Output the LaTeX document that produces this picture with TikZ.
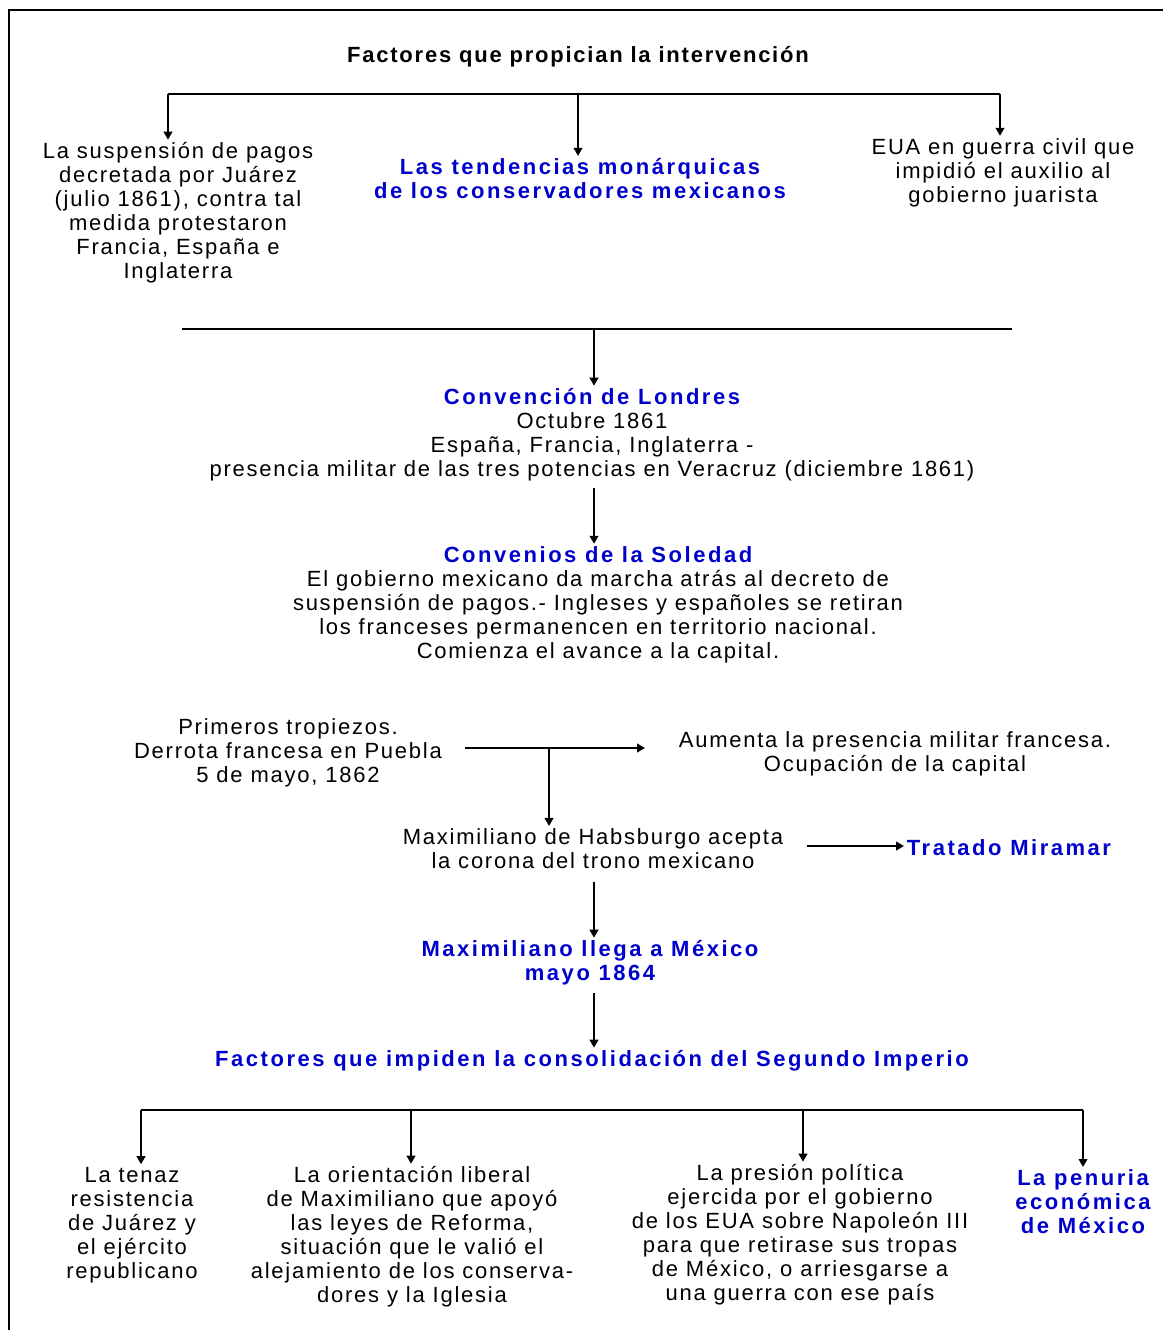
\documentclass[tikz,border=0pt]{standalone}
\usepackage{fontspec}
\setmainfont{Liberation Sans}[LetterSpace=8]
\newfontfamily\bluefont{Liberation Sans}[LetterSpace=11.5]
\usetikzlibrary{arrows.meta}
\definecolor{tblue}{RGB}{0,0,204}
\begin{document}
\begin{tikzpicture}[x=0.75pt,y=-0.75pt,
  txt/.style={align=center,inner sep=0pt,yshift=-2.25pt,font=\fontsize{16.5}{18}\selectfont},
  btxt/.style={align=center,inner sep=0pt,yshift=-2.25pt,font=\fontsize{16.5}{18}\selectfont\bluefont\bfseries,text=tblue},
  ttl/.style={align=center,inner sep=0pt,yshift=-2.25pt,font=\fontsize{16.5}{18}\selectfont\bfseries},
  conn/.style={line width=1.4pt},
  arr/.style={conn,-{Triangle[length=6pt,width=6.5pt]},shorten >=2pt},
  frame/.style={line width=1.6pt}]
\useasboundingbox (0,0) rectangle (1163,1330);
\draw[frame] (9,1330) -- (9,10) -- (1163,10);

% title and first branch
\node[ttl] (title) at (578,54) {Factores que propician la intervención};
\node[txt] (f1) at (178,210) {La suspensión de pagos\\decretada por Juárez\\(julio 1861), contra tal\\medida protestaron\\Francia, España e\\Inglaterra};
\node[btxt] (f2) at (580,176) {Las tendencias monárquicas\\de los conservadores mexicanos};
\node[txt] (f3) at (1003,170) {EUA en guerra civil que\\impidió el auxilio al\\gobierno juarista};
\coordinate (tl) at (168,94);
\coordinate (tm) at (578,94);
\coordinate (tr) at (1000,94);
\draw[conn] (tl) -- (tr);
\draw[arr] (tl) -- (tl |- f1.north);
\draw[arr] (tm) -- (tm |- f2.north);
\draw[arr] (tr) -- (tr |- f3.north);

% divider
\coordinate (dl) at (182,329);
\coordinate (dr) at (1012,329);
\coordinate (dm) at (594,329);
\draw[conn] (dl) -- (dr);

\node[txt] (lond) at (592,432) {{\bluefont\bfseries\color{tblue}Convención de Londres}\\Octubre 1861\\España, Francia, Inglaterra -\\presencia militar de las tres potencias en Veracruz  (diciembre 1861)};
\draw[arr] (dm) -- (dm |- lond.north);

\node[txt] (sol) at (598,602) {{\bluefont\bfseries\color{tblue}Convenios de la Soledad}\\El gobierno mexicano da marcha atrás al decreto de\\suspensión de pagos.- Ingleses y españoles se retiran\\los franceses permanencen en territorio nacional.\\Comienza el avance a la capital.};
\coordinate (s1) at (594,488);
\draw[arr] (s1) -- (s1 |- sol.north);

\node[txt] (prim) at (288,750) {Primeros tropiezos.\\Derrota francesa en Puebla\\5 de mayo, 1862};
\node[txt] (aum) at (895,751) {Aumenta la presencia militar francesa.\\Ocupación de la capital};
\coordinate (h1) at (465,748);
\coordinate (h2) at (645,748);
\coordinate (hd) at (549,748);
\draw[arr,shorten >=0pt] (h1) -- (h2);

\node[txt] (maxi) at (593,846) {Maximiliano de Habsburgo acepta\\la corona del trono mexicano};
\draw[arr] (hd) -- (hd |- maxi.north);
\node[btxt] (mira) at (1009,845) {Tratado Miramar};
\coordinate (m1) at (807,846);
\draw[arr] (m1) -- (mira.west |- m1);

\node[btxt] (llega) at (590,960) {Maximiliano llega a México\\mayo 1864};
\coordinate (l1) at (594,882);
\draw[arr] (l1) -- (l1 |- llega.north);

\node[btxt] (imp) at (592,1058) {Factores que impiden la consolidación del Segundo Imperio};
\coordinate (i1) at (594,993);
\draw[arr] (i1) -- (i1 |- imp.north);

% bottom branch
\node[txt] (b1) at (132,1222) {La tenaz\\resistencia\\de Juárez y\\el ejército\\republicano};
\node[txt] (b2) at (412,1234) {La orientación liberal\\de Maximiliano que apoyó\\las leyes de Reforma,\\situación que le valió el\\alejamiento de los conserva-\\dores y la Iglesia};
\node[txt] (b3) at (800,1232) {La presión política\\ejercida por el gobierno\\de los EUA sobre Napoleón III\\para que retirase sus tropas\\de México, o arriesgarse a\\una guerra con ese país};
\node[btxt] (b4) at (1083,1199) {La penuria\\económica\\de México};
\coordinate (bl) at (141,1110);
\coordinate (bm1) at (411,1110);
\coordinate (bm2) at (803,1110);
\coordinate (br) at (1083,1110);
\draw[conn] (bl) -- (br);
\draw[arr] (bl) -- (bl |- b1.north);
\draw[arr] (bm1) -- (bm1 |- b2.north);
\draw[arr] (bm2) -- (bm2 |- b3.north);
\draw[arr] (br) -- (br |- b4.north);
\end{tikzpicture}
\end{document}
